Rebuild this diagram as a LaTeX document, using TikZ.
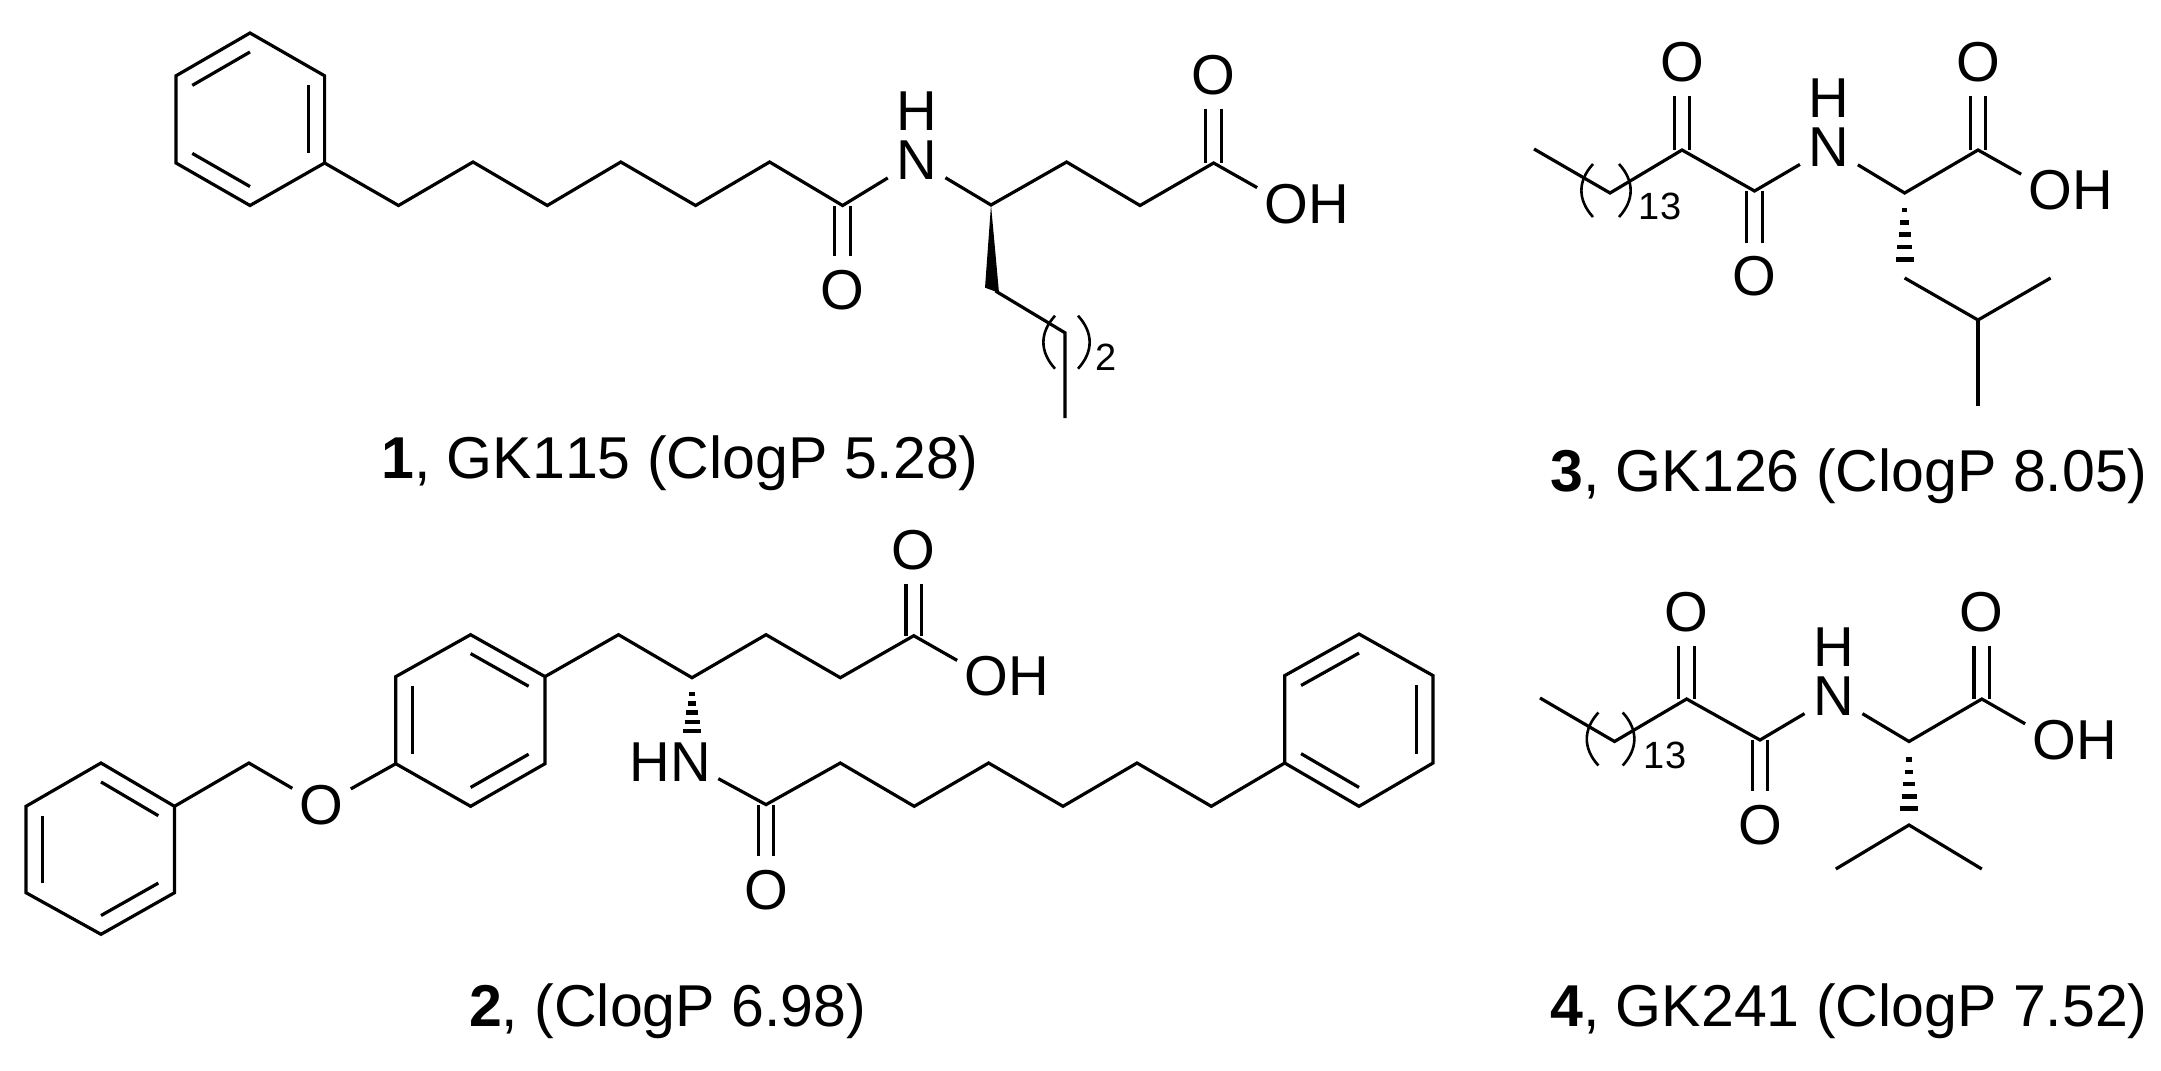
\documentclass[tikz,border=0pt]{standalone}
\usepackage{fontspec}
\setmainfont[Kerning=Off]{Liberation Sans}
\usetikzlibrary{calc}
\tikzset{
	bond/.style={line width=.32mm},
	dbl/.style={line width=.32mm,double,double distance=1.23mm},
	brk/.style={line width=.26mm},
	hashbar/.style={line width=.45mm},
	atom/.style={circle,inner sep=0pt,minimum size=6.6mm,font=\fontsize{16}{18}\selectfont},
	oh/.style={rectangle,inner xsep=.7mm,inner ysep=0pt,font=\fontsize{16}{18}\selectfont},
	idx/.style={inner sep=0pt,font=\fontsize{10.8}{13}\selectfont},
	capt/.style={anchor=base,inner sep=0pt,font=\fontsize{16.8}{20}\selectfont},
}
\begin{document}
\begin{tikzpicture}[x=.1mm,y=-.1mm]
	\useasboundingbox (0,0) rectangle (2161,1070);
	% 1
	\path
	(250,119.3) coordinate (a0)
	(250,33) coordinate (a1)
	(324.6,75.8) coordinate (a2)
	(324.6,163) coordinate (a3)
	(250,205.5) coordinate (a4)
	(176,163) coordinate (a5)
	(176,75.8) coordinate (a6)
	(398.5,205.5) coordinate (a7)
	(473,162) coordinate (a8)
	(547.3,205.5) coordinate (a9)
	(620.8,162) coordinate (a10)
	(695.6,205.5) coordinate (a11)
	(769.6,162) coordinate (a12)
	(842.6,205.5) coordinate (a13)
	(991,205) coordinate (a14)
	(1066.6,162) coordinate (a15)
	(1140,205.5) coordinate (a16)
	(1213.6,163) coordinate (a17)
	(985,287.7) coordinate (a18)
	(999,292.8) coordinate (a19)
	(995.5,291) coordinate (a20)
	(1065,332.8) coordinate (a21)
	(1065,418) coordinate (a22)
	;
	\node[atom] (an) at (916.5,160.4) {N};
	\node[atom] (ah) at (916.5,111) {H};
	\node[atom] (ao1) at (1213.6,75) {O};
	\node[atom] (ao2) at (842.6,290) {O};
	\node[oh] (aoh) at (1307,203.8) {OH};
	\node[idx] (ai) at (1106,357) {2};
	\node[capt] (cap1) at (680,478) {\textbf{1}, GK115 (ClogP 5.28)};
	\draw[dbl] (a17) -- (ao1);
	\draw[dbl] (a13) -- (ao2);
	\draw[bond] (a1) -- (a2) -- (a3) -- (a4) -- (a5) -- (a6) -- cycle;
	\draw[bond] (a3) -- (a7) -- (a8) -- (a9) -- (a10) -- (a11) -- (a12) -- (a13) -- (an);
	\draw[bond] (an) -- (a14) -- (a15) -- (a16) -- (a17) -- (aoh.162);
	\fill (a14) -- (a18) -- (a19) -- cycle;
	\draw[bond] (a20) -- (a21) -- (a22);
	\foreach \x/\y in {a1/a6,a2/a3,a5/a4} \draw[bond] ($(\x)!.22!(a0)$) -- ($(\y)!.22!(a0)$);
	% 2
	\path
	(101,849) coordinate (b0)
	(101,763) coordinate (b1)
	(174.5,806.3) coordinate (b2)
	(174.5,892.7) coordinate (b3)
	(101,934.3) coordinate (b4)
	(26,892.7) coordinate (b5)
	(26,806.3) coordinate (b6)
	(248.9,763) coordinate (b7)
	(470.6,720.5) coordinate (c0)
	(470.6,634.7) coordinate (c1)
	(545,676.6) coordinate (c2)
	(545,763.7) coordinate (c3)
	(470.6,806.3) coordinate (c4)
	(395.8,763.7) coordinate (c5)
	(395.8,676.6) coordinate (c6)
	(618.5,634.7) coordinate (c7)
	(692,677.7) coordinate (c8)
	(766,634.7) coordinate (c9)
	(840.3,677.7) coordinate (c10)
	(913.8,635.7) coordinate (c11)
	(692,694) coordinate (c12)
	(692,731) coordinate (c13)
	(766,804.6) coordinate (c14)
	(840.3,763) coordinate (c15)
	(914.2,806.3) coordinate (c16)
	(988.6,763) coordinate (c17)
	(1063,806.3) coordinate (c18)
	(1137,763) coordinate (c19)
	(1211.3,806.3) coordinate (c20)
	(1359,720.5) coordinate (d0)
	(1359,634) coordinate (d1)
	(1433,675.6) coordinate (d2)
	(1433,763) coordinate (d3)
	(1359,806.3) coordinate (d4)
	(1284.7,763) coordinate (d5)
	(1284.7,675.6) coordinate (d6)
	;
	\node[atom] (bo) at (321.4,805.3) {O};
	\node[atom] (co1) at (913.8,550.4) {O};
	\node[atom] (co2) at (766,890) {O};
	\node[oh] (coh) at (1007,676.6) {OH};
	\node[oh] (chn) at (670,762) {HN};
	\node[capt] (cap2) at (667.6,1026.5) {\textbf{2}, (ClogP 6.98)};
	\draw[dbl] (c11) -- (co1);
	\draw[dbl] (c14) -- (co2);
	\draw[bond] (b1) -- (b2) -- (b3) -- (b4) -- (b5) -- (b6) -- cycle;
	\draw[bond] (b2) -- (b7) -- (bo) -- (c5);
	\draw[bond] (c1) -- (c2) -- (c3) -- (c4) -- (c5) -- (c6) -- cycle;
	\draw[bond] (c2) -- (c7) -- (c8) -- (c9) -- (c10) -- (c11) -- (coh.162);
	\draw[bond] (chn.-19) -- (c14) -- (c15) -- (c16) -- (c17) -- (c18) -- (c19) -- (c20) -- (d5);
	\draw[bond] (d1) -- (d2) -- (d3) -- (d4) -- (d5) -- (d6) -- cycle;
	\foreach \x/\y in {b1/b2,b6/b5,b4/b3} \draw[bond] ($(\x)!.22!(b0)$) -- ($(\y)!.22!(b0)$);
	\foreach \x/\y in {c1/c2,c6/c5,c4/c3} \draw[bond] ($(\x)!.22!(c0)$) -- ($(\y)!.22!(c0)$);
	\foreach \x/\y in {d1/d6,d2/d3,d5/d4} \draw[bond] ($(\x)!.22!(d0)$) -- ($(\y)!.22!(d0)$);
	% 3
	\path
	(1534,149) coordinate (e1)
	(1610,193) coordinate (e2)
	(1682,150) coordinate (e3)
	(1754.5,191) coordinate (e4)
	(1904.6,193) coordinate (e5)
	(1978,150) coordinate (e6)
	(1904.6,210) coordinate (e7)
	(1904.6,259.3) coordinate (e8)
	(1904.6,278) coordinate (e9)
	(1978,320) coordinate (e10)
	(2050.6,278) coordinate (e11)
	(1978,405.5) coordinate (e12)
	;
	\node[atom] (en) at (1829,147.4) {N};
	\node[atom] (eh) at (1829,98.3) {H};
	\node[atom] (eo1) at (1682,62.5) {O};
	\node[atom] (eo2) at (1754.5,276.4) {O};
	\node[atom] (eo3) at (1978,62.5) {O};
	\node[oh] (eoh) at (2071,190.4) {OH};
	\node[idx] (ei) at (1660,206) {13};
	\node[capt] (cap3) at (1849,491) {\textbf{3}, GK126 (ClogP 8.05)};
	\draw[dbl] (e3) -- (eo1);
	\draw[dbl] (e4) -- (eo2);
	\draw[dbl] (e6) -- (eo3);
	\draw[bond] (e1) -- (e2) -- (e3) -- (e4) -- (en) -- (e5) -- (e6) -- (eoh.162);
	\draw[bond] (e9) -- (e10) -- (e11);
	\draw[bond] (e10) -- (e12);
	% 4
	\path
	(1540,698) coordinate (f1)
	(1614.5,741.5) coordinate (f2)
	(1686.6,699) coordinate (f3)
	(1760,740) coordinate (f4)
	(1909,741.5) coordinate (f5)
	(1981.8,699) coordinate (f6)
	(1909,759.5) coordinate (f7)
	(1909,808.5) coordinate (f8)
	(1909,825) coordinate (f9)
	(1835.8,869) coordinate (f10)
	(1981.8,869) coordinate (f11)
	;
	\node[atom] (fn) at (1833.5,696.4) {N};
	\node[atom] (fh) at (1833.5,647) {H};
	\node[atom] (fo1) at (1686.6,612) {O};
	\node[atom] (fo2) at (1760,825) {O};
	\node[atom] (fo3) at (1981.8,612) {O};
	\node[oh] (foh) at (2075,740) {OH};
	\node[idx] (fi) at (1665,755) {13};
	\node[capt] (cap4) at (1849,1026.5) {\textbf{4}, GK241 (ClogP 7.52)};
	\draw[dbl] (f3) -- (fo1);
	\draw[dbl] (f4) -- (fo2);
	\draw[dbl] (f6) -- (fo3);
	\draw[bond] (f1) -- (f2) -- (f3) -- (f4) -- (fn) -- (f5) -- (f6) -- (foh.162);
	\draw[bond] (f10) -- (f9) -- (f11);
	% brackets and hashed wedges
	\foreach \x/\y/\s in {1055/315.7/-1,1078/315.7/1,1593/164/-1,1619/164/1,1598.4/712.5/-1,1622.7/712.5/1}
		\draw[brk] (\x,\y) .. controls +(\s*15.5,17) and +(\s*15.5,-17) .. (\x,\y+53);
	\foreach \p/\q in {c12/c13,e7/e8,f7/f8}
		\foreach \n in {0,...,4}
			\draw[hashbar] ($(\p)!\n/4!(\q)+(-2.7-1.6*\n,0)$) -- ++(5.4+3.2*\n,0);
\end{tikzpicture}
\end{document}
